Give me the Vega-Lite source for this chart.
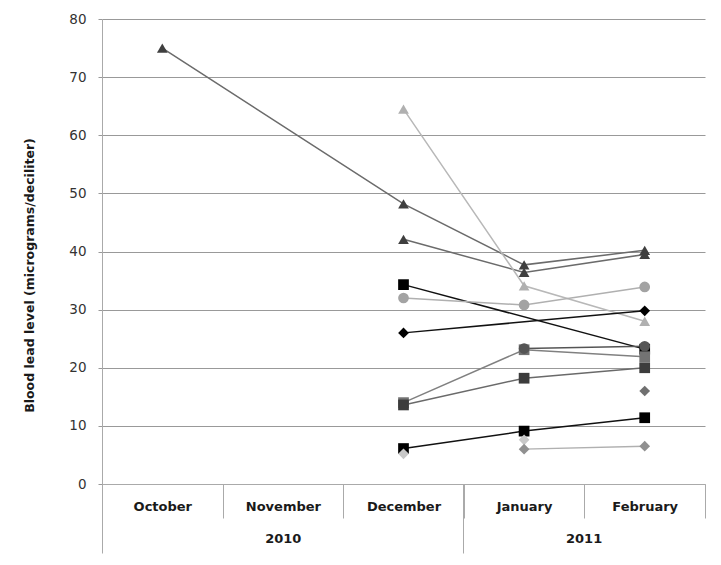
{
  "$schema": "https://vega.github.io/schema/vega-lite/v6.json",
  "width": 603,
  "height": 465,
  "autosize": "none",
  "padding": {"left": 102, "top": 19, "right": 16, "bottom": 81},
  "config": {
    "view": {"stroke": null},
    "font": "DejaVu Sans",
    "axis": {"labelFont": "DejaVu Sans", "titleFont": "DejaVu Sans"}
  },
  "data": {
    "values": [
      {"series": "A", "month": "October", "value": 75.0},
      {"series": "A", "month": "December", "value": 48.2},
      {"series": "A", "month": "January", "value": 37.7},
      {"series": "A", "month": "February", "value": 40.2},
      {"series": "B", "month": "December", "value": 42.1},
      {"series": "B", "month": "January", "value": 36.4},
      {"series": "B", "month": "February", "value": 39.5},
      {"series": "C", "month": "December", "value": 64.5},
      {"series": "C", "month": "January", "value": 34.1},
      {"series": "C", "month": "February", "value": 28.0},
      {"series": "D", "month": "December", "value": 34.3},
      {"series": "D", "month": "February", "value": 23.2},
      {"series": "E", "month": "December", "value": 32.0},
      {"series": "E", "month": "January", "value": 30.8},
      {"series": "E", "month": "February", "value": 33.9},
      {"series": "F", "month": "December", "value": 26.0},
      {"series": "F", "month": "February", "value": 29.8},
      {"series": "G", "month": "December", "value": 14.0},
      {"series": "G", "month": "January", "value": 23.1},
      {"series": "G", "month": "February", "value": 21.9},
      {"series": "H", "month": "December", "value": 13.6},
      {"series": "H", "month": "January", "value": 18.2},
      {"series": "H", "month": "February", "value": 20.0},
      {"series": "I", "month": "January", "value": 23.3},
      {"series": "I", "month": "February", "value": 23.7},
      {"series": "J", "month": "December", "value": 6.1},
      {"series": "J", "month": "January", "value": 9.1},
      {"series": "J", "month": "February", "value": 11.4},
      {"series": "K", "month": "December", "value": 5.2},
      {"series": "L", "month": "January", "value": 7.6},
      {"series": "M", "month": "January", "value": 6.0},
      {"series": "M", "month": "February", "value": 6.5},
      {"series": "N", "month": "February", "value": 16.0}
    ]
  },
  "encoding": {
    "y": {
      "field": "value",
      "type": "quantitative",
      "scale": {"domain": [0, 80], "nice": false},
      "axis": {
        "values": [0, 10, 20, 30, 40, 50, 60, 70, 80],
        "title": "Blood lead level (micrograms/deciliter)",
        "titleFontSize": 12.5,
        "titleFontWeight": "bold",
        "titleColor": "#1a1a1a",
        "titleX": -66,
        "titleY": 256,
        "titleBaseline": "bottom",
        "labelFontSize": 13.5,
        "labelColor": "#333",
        "labelPadding": 12,
        "tickSize": 4,
        "tickColor": "#999",
        "domainColor": "#aaa",
        "grid": true,
        "gridColor": "#999",
        "gridWidth": 1
      }
    }
  },
  "layer": [
    {
      "mark": {"type": "line"},
      "encoding": {
        "x": {
          "field": "month",
          "type": "nominal",
          "sort": ["October", "November", "December", "January", "February"],
          "scale": {"type": "band", "domain": ["October", "November", "December", "January", "February"], "paddingInner": 0, "paddingOuter": 0},
          "axis": {
            "orient": "bottom",
            "title": null,
            "tickBand": "extent",
            "tickSize": 34,
            "tickColor": "#aaa",
            "domainColor": "#aaa",
            "labelPadding": -17.5,
            "labelAngle": 0,
            "labelFontSize": 13,
            "labelFontWeight": "bold",
            "labelColor": "#1a1a1a",
            "grid": false
          }
        },
        "detail": {"field": "series"},
        "color": {
          "field": "series",
          "type": "nominal",
          "legend": null,
          "scale": {
            "domain": ["A", "B", "C", "D", "E", "F", "G", "H", "I", "J", "K", "L", "M", "N"],
            "range": ["#6b6b6b", "#6b6b6b", "#b8b8b8", "#111111", "#b0b0b0", "#111111", "#808080", "#6a6a6a", "#555555", "#111111", "#c8c8c8", "#c8c8c8", "#b0b0b0", "#707070"]
          }
        },
        "strokeWidth": {
          "field": "series",
          "type": "nominal",
          "legend": null,
          "scale": {
            "domain": ["A", "B", "C", "D", "E", "F", "G", "H", "I", "J", "K", "L", "M", "N"],
            "range": [1.5, 1.5, 1.5, 1.5, 1.5, 1.5, 1.5, 1.5, 3, 1.5, 1.5, 1.5, 1.5, 1.5]
          }
        }
      }
    },
    {
      "mark": {"type": "point", "filled": true, "opacity": 1},
      "encoding": {
        "x": {
          "field": "month",
          "type": "nominal",
          "sort": ["October", "November", "December", "January", "February"],
          "scale": {"type": "band", "domain": ["October", "November", "December", "January", "February"], "paddingInner": 0, "paddingOuter": 0},
          "axis": {
            "orient": "bottom",
            "title": null,
            "values": ["October", "January"],
            "bandPosition": 0,
            "tickSize": 69,
            "tickColor": "#aaa",
            "domain": false,
            "labelExpr": "datum.value == 'October' ? '2010' : '2011'",
            "labelOffset": {"condition": {"test": "datum.value == 'October'", "value": 121}, "value": 60},
            "labelPadding": -20.5,
            "labelAngle": 0,
            "labelFontSize": 13,
            "labelFontWeight": "bold",
            "labelColor": "#1a1a1a",
            "grid": false
          }
        },
        "shape": {
          "field": "series",
          "type": "nominal",
          "legend": null,
          "scale": {
            "domain": ["A", "B", "C", "D", "E", "F", "G", "H", "I", "J", "K", "L", "M", "N"],
            "range": ["triangle-up", "triangle-up", "triangle-up", "square", "circle", "diamond", "square", "square", "circle", "square", "diamond", "diamond", "diamond", "diamond"]
          }
        },
        "color": {
          "field": "series",
          "type": "nominal",
          "legend": null,
          "scale": {
            "domain": ["A", "B", "C", "D", "E", "F", "G", "H", "I", "J", "K", "L", "M", "N"],
            "range": ["#3f3f3f", "#3f3f3f", "#b0b0b0", "#000000", "#a3a3a3", "#000000", "#737373", "#3c3c3c", "#555555", "#000000", "#c8c8c8", "#c8c8c8", "#909090", "#707070"]
          }
        },
        "size": {"value": 115}
      }
    }
  ],
  "resolve": {"axis": {"x": "independent"}, "scale": {"color": "independent"}}
}
